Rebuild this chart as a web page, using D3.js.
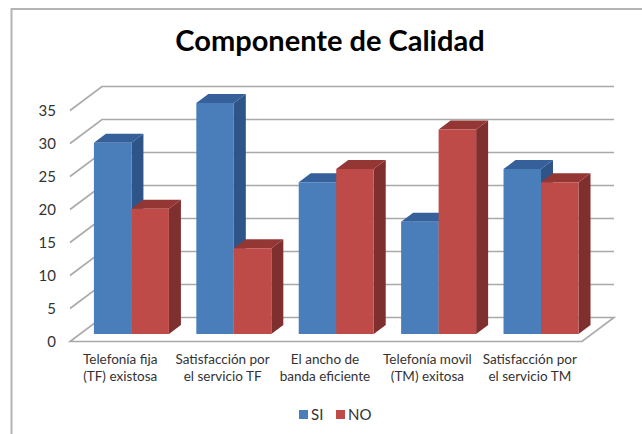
<!DOCTYPE html>
<html>
<head>
<meta charset="utf-8">
<script src="https://cdn.jsdelivr.net/npm/d3@7"></script>
<style>
html, body { margin:0; padding:0; background:#fff; }
text { font-family:"Lato","Open Sans",sans-serif; }
</style>
</head>
<body>
<div id="chart"></div>
<script>
var categories = [
	["Telefonía fija","(TF) existosa"],
	["Satisfacción por","el servicio TF"],
	["El ancho de","banda eficiente"],
	["Telefonía movil","(TM) exitosa"],
	["Satisfacción por","el servicio TM"]
];
var seriesNames = ["SI","NO"];
var siValues = [29,35,23,17,25];
var noValues = [19,13,25,31,23];
var yTicks = [0,5,10,15,20,25,30,35];

var colors = {
	SI:{front:"#4a7ebb", top:"#35609a", side:"#2f5488"},
	NO:{front:"#be4b48", top:"#943634", side:"#7f2f2d"}
};

var width = 642, height = 434;

var svg = d3.select("#chart")
	.append("svg")
	.attr("width", width)
	.attr("height", height)
	.style("display","block");

// frame of the pasted chart, only top and left are in the picture
svg.append("path")
	.attr("d","M11.5,434V9H642")
	.attr("fill","none")
	.attr("stroke","#b4b4b4")
	.attr("stroke-width",2);

svg.append("text")
	.attr("x",330)
	.attr("y",51)
	.attr("text-anchor","middle")
	.attr("font-size",29)
	.attr("font-weight","bold")
	.attr("fill","#000")
	.text("Componente de Calidad");

// front plane of the 3d box
var plot = {left:70, right:582, floor:341.5};
var depth = {x:32, y:24};

var xScale = d3.scaleBand()
	.domain(d3.range(categories.length))
	.range([plot.left, plot.right]);

var yScale = d3.scaleLinear()
	.domain([0,35])
	.range([plot.floor, plot.floor - 231]);

// d goes from 0 at the front of the box to 1 at the back wall
function project(x, y, d) {
	return [x + d * depth.x, y - d * depth.y];
}

function poly(points) {
	return "M" + points.map(function(p){ return p[0] + "," + p[1]; }).join("L") + "Z";
}

var grid = svg.append("g").attr("fill","none").attr("stroke","#a9a9a9").attr("stroke-width",1.6);

// floor
grid.append("path")
	.attr("d", poly([
		project(plot.left, yScale(0), 0),
		project(plot.right, yScale(0), 0),
		project(plot.right, yScale(0), 1),
		project(plot.left, yScale(0), 1)
	]));

yTicks.slice(1).forEach(function(t){
	var a = project(plot.left, yScale(t), 0);
	var b = project(plot.left, yScale(t), 1);
	var c = project(plot.right, yScale(t), 1);
	grid.append("path").attr("d", d3.line()([a,b,c]));
});

// bars, drawn left to right so each one hides the side of the one before
var barFront = 0.31, barBack = 0.685;

var inner = d3.scaleBand()
	.domain(seriesNames)
	.range([14, 89]);

var bars = svg.append("g");

categories.forEach(function(c,i){
	seriesNames.forEach(function(name,s){
		var value = (s == 0 ? siValues : noValues)[i];
		var x0 = xScale(i) + inner(name);
		var x1 = x0 + inner.bandwidth();
		var y0 = yScale(0);
		var y1 = yScale(value);
		var col = colors[name];
		var g = bars.append("g");
		g.append("path")
			.attr("fill", col.side)
			.attr("d", poly([
				project(x1,y0,barFront),
				project(x1,y0,barBack),
				project(x1,y1,barBack),
				project(x1,y1,barFront)
			]));
		g.append("path")
			.attr("fill", col.top)
			.attr("d", poly([
				project(x0,y1,barFront),
				project(x1,y1,barFront),
				project(x1,y1,barBack),
				project(x0,y1,barBack)
			]));
		g.append("path")
			.attr("fill", col.front)
			.attr("d", poly([
				project(x0,y0,barFront),
				project(x1,y0,barFront),
				project(x1,y1,barFront),
				project(x0,y1,barFront)
			]));
	});
});

// tick labels
svg.append("g")
	.selectAll("text")
	.data(yTicks)
	.join("text")
	.attr("x",56)
	.attr("y",function(d){ return yScale(d) + 5; })
	.attr("text-anchor","end")
	.attr("font-size",15)
	.attr("fill","#333")
	.text(function(d){ return d; });

// category labels
var labels = svg.append("g")
	.selectAll("text")
	.data(categories)
	.join("text")
	.attr("text-anchor","middle")
	.attr("font-size",13.5)
	.attr("fill","#333");

labels.selectAll("tspan")
	.data(function(d,i){ return d.map(function(l){ return {line:l, i:i}; }); })
	.join("tspan")
	.attr("x",function(d){ return xScale(d.i) + xScale.bandwidth()/2 - 1; })
	.attr("y",function(d,j){ return 364 + j*17; })
	.text(function(d){ return d.line; });

// legend
var legend = svg.append("g");
var legendX = [299,336];
seriesNames.forEach(function(name,i){
	legend.append("rect")
		.attr("x",legendX[i])
		.attr("y",410)
		.attr("width",9)
		.attr("height",9)
		.attr("fill",colors[name].front);
	legend.append("text")
		.attr("x",legendX[i] + 12)
		.attr("y",420)
		.attr("font-size",15)
		.attr("fill","#333")
		.text(name);
});
</script>
</body>
</html>
